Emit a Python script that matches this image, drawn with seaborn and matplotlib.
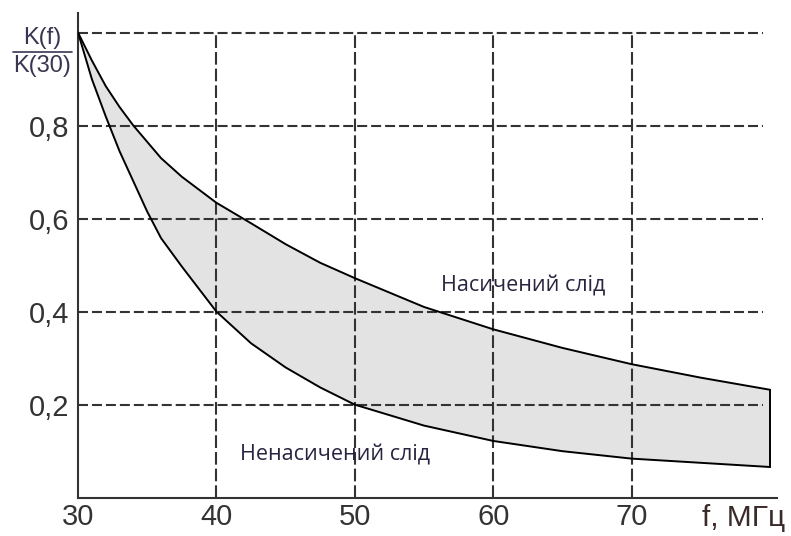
import pandas as pd
import matplotlib
matplotlib.use('Agg')
import matplotlib.pyplot as plt
import seaborn as sns
from matplotlib.lines import Line2D

# Дані
freq = [30, 31, 32, 33, 34, 35, 36, 37.5, 40, 42.5, 45, 47.5, 50, 55, 60, 65, 70, 75, 80]
k_sat = [1.0, 0.94, 0.885, 0.84, 0.80, 0.765, 0.73, 0.69, 0.634, 0.59, 0.545, 0.505, 0.472,
         0.41, 0.362, 0.322, 0.287, 0.258, 0.232]
k_unsat = [1.0, 0.9, 0.82, 0.745, 0.68, 0.615, 0.558, 0.497, 0.40, 0.332, 0.28, 0.237, 0.20,
           0.155, 0.122, 0.10, 0.084, 0.075, 0.066]

x_ticks = [30, 40, 50, 60, 70]
y_ticks = [0.2, 0.4, 0.6, 0.8]
y_tick_labels = ['0,2', '0,4', '0,6', '0,8']

label_sat = 'Насичений слід'
label_unsat = 'Ненасичений слід'
y_num = 'K(f)'
y_den = 'K(30)'
x_title = 'f, МГц'

sns.set_style('white')
plt.rcParams['font.family'] = ['Liberation Sans', 'DejaVu Sans']

W, H = 791, 536
fig = plt.figure(figsize=(W / 100, H / 100), dpi=100)
ax = fig.add_axes([78 / W, 1 - 497.7 / H, (777 - 78) / W, (497.7 - 13) / H])

ink = '#333333'

# Заливка між кривими
ax.fill_between(freq, k_unsat, k_sat, color='#e3e3e3', linewidth=0, zorder=1)

# Сітка пунктиром
ax.hlines(y_ticks + [1.0], 30, 79.5, colors=ink, linewidth=1.5,
          linestyles=[(0, (4.8, 1.9))], zorder=2)
ax.vlines(x_ticks[1:], 0, 1.0, colors=ink, linewidth=1.5,
          linestyles=[(0, (6.1, 1.9))], zorder=2)

# Криві
data = pd.DataFrame({
    'f': freq * 2,
    'K': k_sat + k_unsat,
    'series': [label_sat] * len(freq) + [label_unsat] * len(freq),
})
sns.lineplot(data=data, x='f', y='K', hue='series', palette=['black', 'black'],
             estimator=None, sort=False, linewidth=1.4, legend=False, ax=ax, zorder=3)
ax.plot([freq[-1], freq[-1]], [k_unsat[-1], k_sat[-1]], color='black', linewidth=1.4, zorder=3)

ax.set_xlim(30, 80.5)
ax.set_ylim(0, 1.042)
ax.set_xticks(x_ticks)
ax.set_yticks(y_ticks)
ax.set_yticklabels(y_tick_labels)
ax.set_xlabel('')
ax.set_ylabel('')
ax.tick_params(axis='both', length=0, labelsize=21, colors=ink)
ax.tick_params(axis='x', pad=4)
ax.tick_params(axis='y', pad=6)

for side in ['top', 'right']:
    ax.spines[side].set_visible(False)
for side in ['left', 'bottom']:
    ax.spines[side].set_color(ink)
    ax.spines[side].set_linewidth(1.5)

# Підписи кривих
ax.text(56.2, 0.455, label_sat, fontsize=15.5, family=['Open Sans', 'DejaVu Sans'],
        color='#2a2440', ha='left', va='center')
ax.text(41.7, 0.092, label_unsat, fontsize=15.5, family=['Open Sans', 'DejaVu Sans'],
        color='#2a2440', ha='left', va='center')

# Підпис осі Y у вигляді дробу
fig.text(42 / W, 1 - 38 / H, y_num, fontsize=17, color='#3a3550', ha='center', va='center')
fig.text(42 / W, 1 - 66 / H, y_den, fontsize=17, color='#3a3550', ha='center', va='center')
fig.add_artist(Line2D([13 / W, 72 / W], [1 - 52 / H, 1 - 52 / H], color='#3a3550',
                      linewidth=1.2, transform=fig.transFigure))

# Підпис осі X
fig.text(702 / W, 1 - 518 / H, x_title, fontsize=21.5, color='#3a2a2a', ha='left', va='center')

fig.savefig('out.png', dpi=100)
